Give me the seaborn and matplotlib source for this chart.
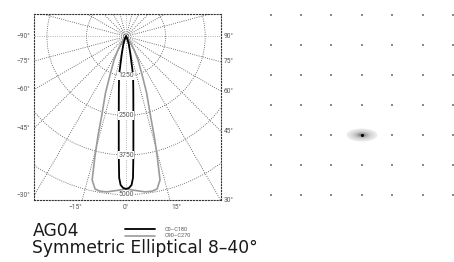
"""
Polar intensity diagram + beam footprint for a luminaire (AG04).
Saves out.png (454x262 px).
"""

import matplotlib
matplotlib.use("Agg")  # headless
import matplotlib.pyplot as plt
from matplotlib.patches import Circle, Ellipse
import numpy as np
import pandas as pd
import seaborn as sns


# ── Data ──────────────────────────────────────────────────────────────────────

# half profiles: angle from nadir (deg) -> intensity (cd)
c0_angles = [0, 1.1, 2.1, 2.8, 3.5, 5.25, 7.5, 10.3, 14, 20, 30, 45]
c0_cd     = [4820, 4790, 4700, 4475, 3785, 2525, 1750, 1240, 550, 250, 60, 0]

c90_angles = [0, 3.3, 7.0, 9.5, 11.5, 13.3, 14.6, 15.8, 17.1, 20, 22.6, 27, 31, 38, 50]
c90_cd     = [4820, 4875, 4950, 4960, 4920, 4660, 3890, 3250, 2620, 1900, 1320, 835, 500, 200, 0]

series_names  = ["C0–C180", "C90–C270"]
ring_values   = [1250, 2500, 3750, 5000, 6250]
ring_labels   = [1250, 2500, 3750, 5000]
left_labels   = [-90, -75, -60, -45, -30]
right_labels  = [90, 75, 60, 45, 30]
bottom_labels = [-15, 0, 15]

# footprint grid (grid units) and spot size (full width, full height)
grid_cols = [-3, -2, -1, 0, 1, 2, 3]
grid_rows = [-2, -1, 0, 1, 2, 3, 4]
spot_size = (1.02, 0.43)

title    = "AG04"
subtitle = "Symmetric Elliptical 8–40°"


# ── Helpers ───────────────────────────────────────────────────────────────────

def mirror_profile(angles, cd, name):
    a = np.asarray(angles, float)
    r = np.asarray(cd, float)
    full_a = np.radians(np.r_[-a[::-1], a[1:]])
    full_r = np.r_[r[::-1], r[1:]]
    return pd.DataFrame({
        "x": full_r * np.sin(full_a),
        "y": -full_r * np.cos(full_a),
        "plane": name,
    })


# ── Figure ────────────────────────────────────────────────────────────────────

sns.set_style("white")
plt.rcParams["font.family"] = ["Roboto", "DejaVu Sans"]

W, H = 454, 262
fig = plt.figure(figsize=(W / 100, H / 100), dpi=100)

# polar diagram drawn on cartesian axes (nadir pointing down)
ax = fig.add_axes([34.3 / W, 1 - 200 / H, (220.7 - 34.3) / W, (200 - 14.3) / H])
x0, x1, y0, y1 = -2900, 2990, -5170, 700
ax.set_xlim(x0, x1)
ax.set_ylim(y0, y1)
ax.set_xticks([])
ax.set_yticks([])
for sp in ax.spines.values():
    sp.set_linestyle(":")
    sp.set_linewidth(0.8)
    sp.set_color("#333333")

grid_kw = dict(ls=":", lw=0.6)
for v in ring_values:
    ax.add_patch(Circle((0, 0), v, fill=False, ec="#4a4a4a", zorder=1, **grid_kw))
for deg in range(0, 360, 15):
    t = np.radians(deg)
    ax.plot([0, 9000 * np.sin(t)], [0, -9000 * np.cos(t)],
            color="#9a9a9a" if deg % 90 == 0 else "#444444", zorder=1, **grid_kw)

df0 = mirror_profile(c0_angles, c0_cd, series_names[0])
df90 = mirror_profile(c90_angles, c90_cd, series_names[1])
sns.lineplot(data=df90, x="x", y="y", sort=False, estimator=None,
             color="#9b9b9b", linewidth=1.2, ax=ax, zorder=3, label=series_names[1])
sns.lineplot(data=df0, x="x", y="y", sort=False, estimator=None,
             color="black", linewidth=1.3, ax=ax, zorder=4, label=series_names[0])
ax.set_xlabel("")
ax.set_ylabel("")
handles, labels = ax.get_legend_handles_labels()
ax.get_legend().remove()

lbl_kw = dict(fontsize=4.8, color="#555555", annotation_clip=False)
for v in ring_labels:
    ax.text(0, -v, f"{v}", ha="center", va="center", fontsize=5, color="#555555",
            zorder=6, bbox=dict(fc="white", ec="none", pad=0.4))

for a in left_labels:
    y = -abs(x0) / np.tan(np.radians(abs(a))) if a != -90 else 0
    ax.annotate(f"−{abs(a)}°", xy=(x0, y), xytext=(-3, 0), textcoords="offset points",
                ha="right", va="center", **lbl_kw)
for a in right_labels:
    y = -x1 / np.tan(np.radians(a)) if a != 90 else 0
    ax.annotate(f"{a}°", xy=(x1, y), xytext=(2, 0), textcoords="offset points",
                ha="left", va="center", **lbl_kw)
for a in bottom_labels:
    x = -y0 * np.tan(np.radians(a))
    label = f"−{abs(a)}°" if a < 0 else f"{a}°"
    ax.annotate(label, xy=(x, y0), xytext=(5 * np.sign(a), -3), textcoords="offset points",
                ha="center", va="top", **lbl_kw)

# footprint panel
ax2 = fig.add_axes([240 / W, 1 - 210 / H, 214 / W, 210 / H])
ax2.set_xlim(-4.01, 3.03)
ax2.set_ylim(-2.5, 4.5)
ax2.axis("off")

gx, gy = np.meshgrid(grid_cols, grid_rows)
sns.scatterplot(x=gx.ravel(), y=gy.ravel(), marker="s", s=2, color="#8a8a8a",
                linewidth=0, ax=ax2, clip_on=False, zorder=2)

sw, sh = spot_size
shades = ["#ececec", "#e3e3e3", "#d8d8d8", "#c9c9c9", "#b5b5b5", "#9a9a9a", "#7a7a7a"]
scales = [1.0, 0.88, 0.72, 0.56, 0.42, 0.28, 0.16]
for sc, c in zip(scales, shades):
    ax2.add_patch(Ellipse((0, 0), sw * sc, sh * sc, fc=c, ec="none", zorder=3))
ax2.scatter([0], [0], s=5, color="black", zorder=4, linewidths=0)

# title block + legend
title_kw = dict(fontsize=12.3, color="#1a1a1a", va="baseline", family="DejaVu Sans")
fig.text(33 / W, (H - 236) / H, title, **title_kw)
fig.text(32 / W, (H - 253.3) / H, subtitle, **title_kw)

fig.legend(handles[::-1], labels[::-1], loc="center left",
           bbox_to_anchor=(125 / W, (H - 232.5) / H), frameon=False, fontsize=4,
           handlelength=5.4, handletextpad=1.8, labelspacing=0.35,
           borderpad=0, borderaxespad=0, labelcolor="#555555")

fig.savefig("out.png", dpi=100)
plt.close(fig)
